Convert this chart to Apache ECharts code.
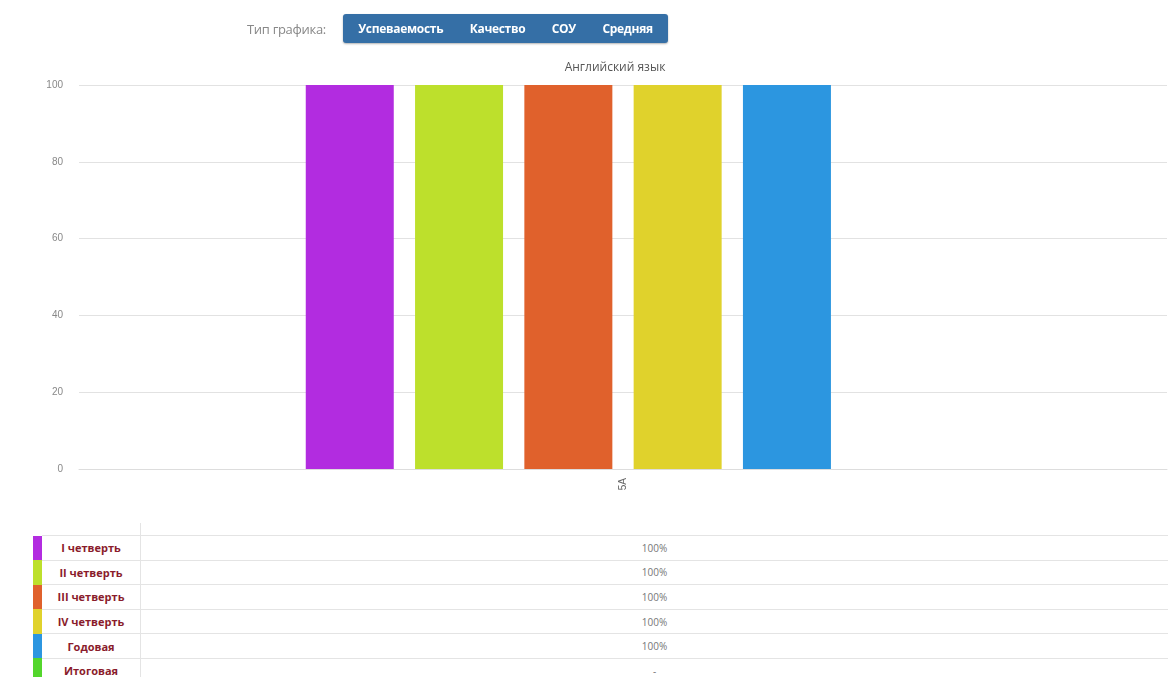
<!DOCTYPE html>
<html><head><meta charset="utf-8">
<script src="https://cdn.jsdelivr.net/npm/echarts@6/dist/echarts.min.js"></script>
<style>
html,body{margin:0;padding:0;background:#fff;font-family:"Open Sans","Liberation Sans",Arial,sans-serif;}
#wrap{position:relative;width:1176px;height:677px;overflow:hidden;}
#chart{position:absolute;left:0;top:0;width:1176px;height:510px;}
#lbl{position:absolute;left:247px;top:21px;color:#888;font-size:13px;line-height:16px;letter-spacing:-0.3px;}
#btns{position:absolute;left:343px;top:14px;display:flex;background:#356fa6;border-radius:3px;height:29px;width:325px;justify-content:space-around;align-items:center;padding:0 2px;box-sizing:border-box;box-shadow:0 1px 2px rgba(0,0,0,.3);}
#btns span{color:#fff;font-weight:bold;font-size:12px;letter-spacing:-0.3px;}
#tbl{position:absolute;left:33px;top:523px;border-collapse:collapse;width:1135px;font-size:10px;}
#tbl td{border-top:1px solid #e4e4e4;height:23.6px;padding:0;text-align:center;}
#tbl tr.h td{height:12px;border-top:none;}
#tbl td.c{width:9px;border-top:none;}
#tbl td.n{width:98px;color:#8a1c2c;font-weight:bold;font-size:11px;border-right:1px solid #e4e4e4;}
#tbl td.v{color:#777;}
</style></head>
<body><div id="wrap">
<div id="chart"></div>
<span id="lbl">Тип графика:</span><div id="btns"></div>
<table id="tbl"></table>
</div>
<script>
const buttons = ["Успеваемость", "Качество", "СОУ", "Средняя"];
const chartTitle = "Английский язык";
const categories = ["5А"];
const seriesNames = ["I четверть", "II четверть", "III четверть", "IV четверть", "Годовая", "Итоговая"];
const seriesColors = ["#B22CE0", "#BDE02C", "#E0612C", "#E0D22C", "#2C96E0", "#53D62C"];
const v1 = [100];
const v2 = [100];
const v3 = [100];
const v4 = [100];
const vYear = [100];
const vFinal = [null];
const tableValues = ["100%", "100%", "100%", "100%", "100%", "-"];
const yTicks = [0, 20, 40, 60, 80, 100];

const seriesValues = [v1, v2, v3, v4, vYear, vFinal];

document.getElementById('btns').innerHTML = buttons.map(b => '<span>' + b + '</span>').join('');
let html = '<tr class="h"><td class="c"></td><td class="n" style="border-right:1px solid #e4e4e4"></td><td class="v"></td></tr>';
seriesNames.forEach((n, i) => {
  html += '<tr><td class="c" style="background:' + seriesColors[i] + '"></td><td class="n">' + n + '</td><td class="v">' + tableValues[i] + '</td></tr>';
});
document.getElementById('tbl').innerHTML = html;

const chart = echarts.init(document.getElementById('chart'), null, {renderer: 'canvas'});
chart.setOption({
  animation: false,
  title: {text: chartTitle, left: 610, top: 57, textAlign: 'center',
    textStyle: {fontSize: 12, fontWeight: 'normal', color: '#555', fontFamily: 'Open Sans'}},
  grid: {left: 79, right: 9, top: 85, bottom: 41, containLabel: false},
  xAxis: {type: 'category', data: categories,
    axisLine: {lineStyle: {color: '#ddd'}}, axisTick: {show: false},
    axisLabel: {rotate: 90, color: '#666', fontSize: 10, margin: 9}},
  yAxis: {type: 'value', min: yTicks[0], max: yTicks[yTicks.length - 1], interval: 20,
    axisLine: {show: false}, axisTick: {show: false},
    splitLine: {lineStyle: {color: '#e2e2e2'}},
    axisLabel: {color: '#888', fontSize: 10, margin: 16}},
  series: seriesNames.map((n, i) => ({
    name: n, type: 'bar', data: seriesValues[i], barWidth: 88, barGap: '24.2%',
    itemStyle: {color: seriesColors[i]}
  }))
});
</script>
</body></html>
